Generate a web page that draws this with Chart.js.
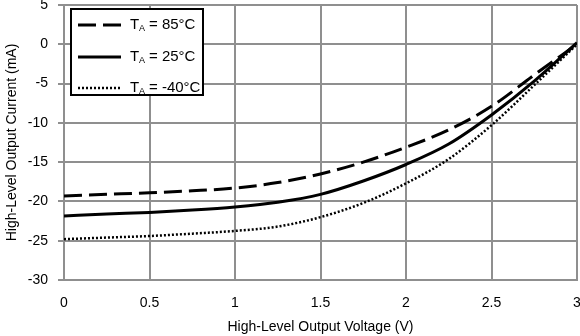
<!DOCTYPE html>
<html>
<head>
<meta charset="utf-8">
<script src="https://cdn.jsdelivr.net/npm/chart.js@4/dist/chart.umd.min.js"></script>
<style>
  html, body { margin: 0; padding: 0; background: #fff; }
  #wrap { width: 580px; height: 336px; position: relative; }
</style>
</head>
<body>
<div id="wrap"><canvas id="chart1" width="580" height="336"></canvas></div>
<script>
// voltage points (V)
const voltages = [0, 0.25, 0.5, 0.75, 1, 1.25, 1.5, 1.75, 2, 2.25, 2.5, 2.75, 3];
// output current (mA) per temperature
const current85 = [-19.3, -19.1, -18.9, -18.65, -18.3, -17.6, -16.5, -15.0, -13.1, -10.9, -7.9, -3.9, 0];
const current25 = [-21.85, -21.6, -21.4, -21.1, -20.7, -20.1, -19.1, -17.4, -15.3, -12.7, -9.0, -4.7, 0.2];
const currentM40 = [-24.8, -24.6, -24.4, -24.1, -23.75, -23.2, -22.0, -20.2, -17.7, -14.6, -10.3, -5.2, 0];
const seriesLabels = ['85°C', '25°C', '-40°C'];
const xTicks = [0, 0.5, 1, 1.5, 2, 2.5, 3];
const yTicks = [-30, -25, -20, -15, -10, -5, 0, 5];

const fontName = "'Liberation Sans', Arial, sans-serif";
const gridColor = '#8f8f8f';

function toPoints(values) {
  let arr = [];
  for (let i = 0; i < values.length; i++) {
    arr.push({ x: voltages[i], y: values[i] });
  }
  return arr;
}

// legend box drawn inside the plot area
const insideLegend = {
  id: 'insideLegend',
  afterDraw(chart) {
    const ctx = chart.ctx;
    const left = 71, top = 9, w = 132, h = 86;
    ctx.save();
    ctx.fillStyle = '#fff';
    ctx.fillRect(left, top, w, h);
    ctx.strokeStyle = '#000';
    ctx.lineWidth = 2;
    ctx.strokeRect(left, top, w, h);
    const rows = [25, 57, 88];
    chart.data.datasets.forEach((ds, i) => {
      const y = rows[i];
      ctx.beginPath();
      ctx.setLineDash(ds.borderDash || []);
      ctx.lineWidth = ds.borderWidth;
      ctx.strokeStyle = ds.borderColor;
      ctx.moveTo(78, y);
      ctx.lineTo(121, y);
      ctx.stroke();
      ctx.setLineDash([]);
      ctx.fillStyle = '#000';
      ctx.textBaseline = 'middle';
      ctx.font = '15px ' + fontName;
      ctx.fillText('T', 130, y);
      ctx.font = '9px ' + fontName;
      ctx.fillText('A', 139, y + 4);
      ctx.font = '15px ' + fontName;
      ctx.fillText('= ' + seriesLabels[i], 149, y);
    });
    ctx.restore();
  }
};

const ctx = document.getElementById('chart1');
new Chart(ctx, {
  type: 'line',
  data: {
    datasets: [{
      label: seriesLabels[0],
      data: toPoints(current85),
      borderColor: '#000',
      borderWidth: 3,
      borderDash: [18, 7],
      pointRadius: 0,
      cubicInterpolationMode: 'monotone'
    }, {
      label: seriesLabels[1],
      data: toPoints(current25),
      borderColor: '#000',
      borderWidth: 3,
      pointRadius: 0,
      cubicInterpolationMode: 'monotone'
    }, {
      label: seriesLabels[2],
      data: toPoints(currentM40),
      borderColor: '#000',
      borderWidth: 2.5,
      borderDash: [2, 2],
      pointRadius: 0,
      cubicInterpolationMode: 'monotone'
    }]
  },
  options: {
    responsive: false,
    animation: false,
    layout: { padding: { top: 5, right: 3, left: 0, bottom: 0 } },
    plugins: {
      legend: { display: false },
      tooltip: { enabled: false }
    },
    scales: {
      x: {
        type: 'linear',
        min: 0,
        max: 3,
        afterBuildTicks: (scale) => { scale.ticks = xTicks.map(v => ({ value: v })); },
        afterFit: (scale) => {
          scale.height = 56;
          scale.paddingLeft = 0;
          scale.paddingRight = 0;
        },
        grid: { color: gridColor, lineWidth: 2, drawTicks: false },
        border: { color: gridColor, width: 2 },
        ticks: {
          color: '#000',
          padding: 15,
          maxRotation: 0,
          autoSkip: false,
          font: { family: fontName, size: 14 },
          callback: (v) => String(v)
        },
        title: {
          display: true,
          text: 'High-Level Output Voltage (V)',
          color: '#000',
          padding: { top: 6, bottom: 0 },
          font: { family: fontName, size: 14 }
        }
      },
      y: {
        type: 'linear',
        min: -30,
        max: 5,
        afterBuildTicks: (scale) => { scale.ticks = yTicks.map(v => ({ value: v })); },
        afterFit: (scale) => {
          scale.width = 64;
          scale.paddingTop = 0;
          scale.paddingBottom = 0;
        },
        grid: { color: gridColor, lineWidth: 2, tickLength: 6 },
        border: { color: gridColor, width: 2 },
        ticks: {
          color: '#000',
          padding: 10,
          autoSkip: false,
          font: { family: fontName, size: 14 }
        },
        title: {
          display: true,
          text: 'High-Level Output Current (mA)',
          color: '#000',
          padding: { bottom: 2 },
          font: { family: fontName, size: 14 }
        }
      }
    }
  },
  plugins: [insideLegend]
});
</script>
</body>
</html>
